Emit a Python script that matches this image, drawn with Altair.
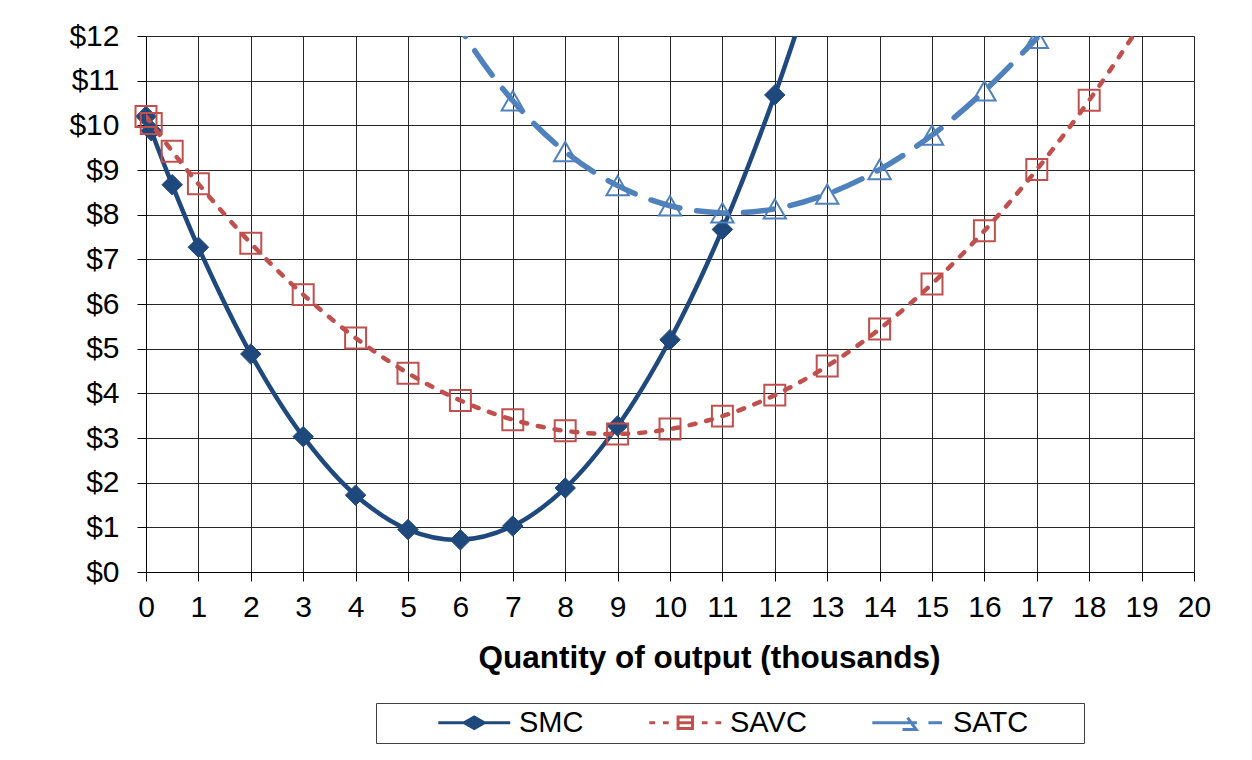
import altair as alt
import pandas as pd

# ---- data ----
smc_q = [0, 0.1, 0.5, 1, 2, 3, 4, 5, 6, 7, 8, 9, 10, 11, 12, 13]
smc_v = [10.2, 9.88, 8.67, 7.27, 4.88, 3.03, 1.72, 0.95, 0.72, 1.03, 1.88, 3.27, 5.2, 7.67, 10.68, 14.23]

savc_q = [0, 0.1, 0.5, 1, 2, 3, 4, 5, 6, 7, 8, 9, 10, 11, 12, 13, 14, 15, 16, 17, 18, 19]
savc_v = [10.2, 10.04, 9.42, 8.69, 7.36, 6.21, 5.24, 4.45, 3.84, 3.41, 3.16, 3.09, 3.2, 3.49,
          3.96, 4.61, 5.44, 6.45, 7.64, 9.01, 10.56, 12.29]

satc_q = [5, 6, 7, 8, 9, 10, 11, 12, 13, 14, 15, 16, 17]
satc_v = [14.45, 12.17, 10.55, 9.41, 8.65, 8.2, 8.04, 8.13, 8.46, 9.01, 9.78, 10.77, 11.95]

series_names = ["SMC", "SAVC", "SATC"]
series_colors = ["#1F497D", "#C0504D", "#4F81BD"]
x_ticks = list(range(0, 21))
y_ticks = list(range(0, 13))
x_title = "Quantity of output (thousands)"

FONT = "Liberation Sans"
Y_MAX = 12

smc_df = pd.DataFrame({"q": smc_q, "v": smc_v})
savc_df = pd.DataFrame({"q": savc_q, "v": savc_v})
satc_df = pd.DataFrame({"q": satc_q, "v": satc_v})

x_scale = alt.Scale(domain=[0, 20], nice=False, zero=False)
y_scale = alt.Scale(domain=[0, 12], nice=False, zero=False)

x_axis = alt.Axis(values=x_ticks, title=x_title, grid=True, labelFont=FONT, labelFontSize=30,
                  labelColor="black", labelPadding=11, tickSize=9, tickColor="black",
                  domainColor="black", gridColor="#262626", gridWidth=1,
                  titleFont=FONT, titleFontSize=31.5, titleFontWeight="bold", titleColor="black",
                  titlePadding=20, titleX=563, labelFlush=False, labelOverlap=False)
y_axis = alt.Axis(values=y_ticks, title=None, grid=True, labelExpr="'$' + datum.label",
                  labelFont=FONT, labelFontSize=30, labelColor="black", labelPadding=18,
                  tickSize=9, tickColor="black", domainColor="black",
                  gridColor="#262626", gridWidth=1, labelFlush=False, labelOverlap=False)


def enc(chart):
    return chart.encode(
        x=alt.X("q:Q", scale=x_scale, axis=x_axis),
        y=alt.Y("v:Q", scale=y_scale, axis=y_axis),
    )


smc_line = enc(alt.Chart(smc_df).mark_line(color=series_colors[0], strokeWidth=4.5,
                                            interpolate="catmull-rom", clip=True))
smc_pts = enc(alt.Chart(smc_df).transform_filter(f"datum.v <= {Y_MAX}").mark_point(
    shape="diamond", filled=True, size=420, color=series_colors[0], opacity=1,
    stroke=series_colors[0], strokeWidth=1))

savc_line = enc(alt.Chart(savc_df).mark_line(color=series_colors[1], strokeWidth=4.5,
                                              strokeDash=[6, 11], strokeCap="round",
                                              interpolate="catmull-rom", clip=True))
savc_pts = enc(alt.Chart(savc_df).transform_filter(f"datum.v <= {Y_MAX}").mark_point(
    shape="square", filled=False, size=440, color=series_colors[1], opacity=1, strokeWidth=2))

satc_line = enc(alt.Chart(satc_df).mark_line(color=series_colors[2], strokeWidth=5.5,
                                              strokeDash=[30, 17], strokeCap="round",
                                              interpolate="catmull-rom", clip=True))
satc_pts = enc(alt.Chart(satc_df).transform_filter(f"datum.v <= {Y_MAX}").mark_point(
    shape="triangle-up", filled=False, size=500, color=series_colors[2], opacity=1,
    strokeWidth=2, clip=True))

# ---- legend (symbols drawn by the legend itself from scale ranges) ----
legend_paths = [
    "M-1,0L9,0M4,-0.8L5.4,0L4,0.8L2.6,0Z",
    "M-1,0L-0.2,0M0.9,0L1.7,0M2.8,0L5.2,0M6.3,0L7.1,0M8.2,0L9,0"
    "M3,-0.8L5,-0.8L5,0.8L3,0.8Z",
    "M-1,0L5.2,0M6.8,0L8.7,0M3.9,-0.7L5.1,0.95L3.2,0.95",
]
legend_fills = [series_colors[0], "transparent", "transparent"]
blank = "\u2800"
nbsp = "\u00a0"
legend = alt.Legend(
    title=" ", titleOrient="left", titlePadding=50, titleFontSize=29, titleFont=FONT,
    orient="none", legendX=230, legendY=667, direction="horizontal",
    strokeColor="#404040", padding=5, fillColor="white",
    labelFont=FONT, labelFontSize=29, labelColor="black",
    symbolSize=207, symbolStrokeWidth=3, symbolOpacity=1,
    labelOffset=59, columnPadding=58,
    labelExpr=f"datum.label == 'SATC' ? datum.label + '{nbsp}{blank * 2}' : datum.label",
)
legend_df = pd.DataFrame({"series": series_names})
legend_layer = alt.Chart(legend_df).transform_filter("false").mark_point(opacity=1).encode(
    shape=alt.Shape("series:N", scale=alt.Scale(domain=series_names, range=legend_paths),
                    legend=legend, sort=series_names),
    stroke=alt.Stroke("series:N", scale=alt.Scale(domain=series_names, range=series_colors),
                      legend=legend, sort=series_names),
    fill=alt.Fill("series:N", scale=alt.Scale(domain=series_names, range=legend_fills),
                  legend=legend, sort=series_names),
)

chart = alt.layer(
    smc_line, smc_pts, savc_line, savc_pts, satc_line, satc_pts, legend_layer
).properties(
    width=1048, height=536,
    autosize=alt.AutoSizeParams(type="none"),
    padding={"left": 138, "top": 28, "right": 40, "bottom": 180},
).configure_view(
    stroke="#868686", strokeWidth=2
).configure(background="white")

chart.save("out.html", embed_options={"renderer": "svg", "actions": False})
